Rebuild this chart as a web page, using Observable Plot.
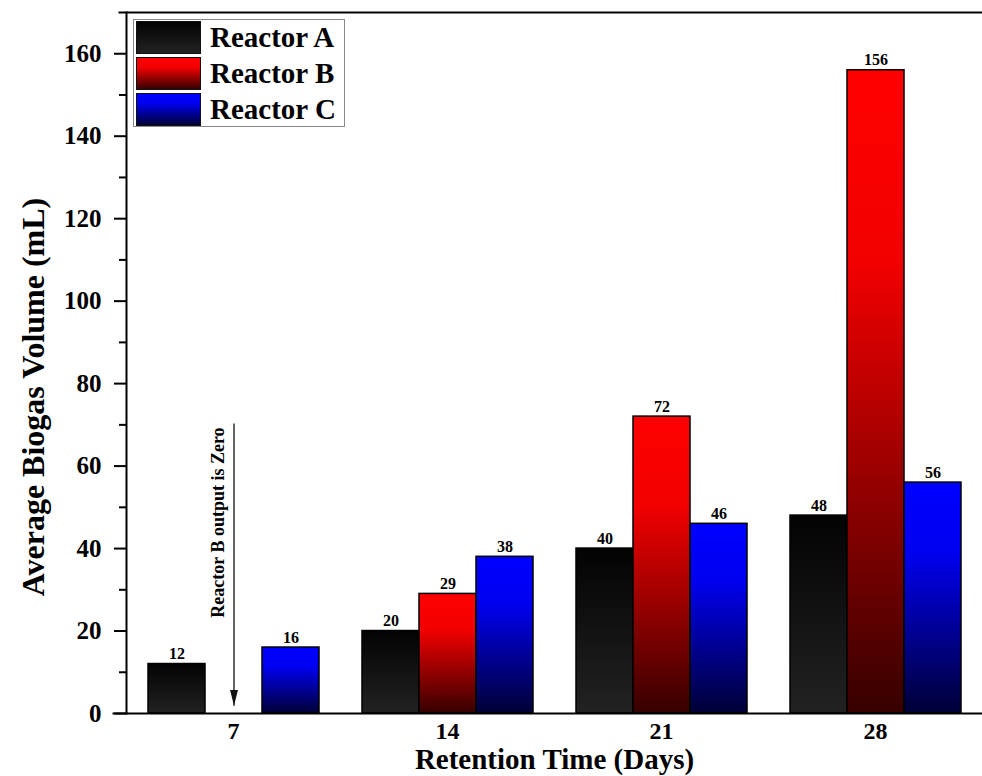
<!DOCTYPE html>
<html>
<head>
<meta charset="utf-8">
<script src="https://cdn.jsdelivr.net/npm/d3@7"></script>
<script src="https://cdn.jsdelivr.net/npm/@observablehq/plot@0.6"></script>
<style>
  body { margin: 0; background: #fff; }
  #wrap { position: relative; width: 982px; height: 776px; font-family: "Liberation Serif", "Times New Roman", serif; }
  #legend { position: absolute; left: 133px; top: 19px; width: 212px; height: 108px; border: 1px solid #8a8a8a; background: #fff; box-sizing: border-box; }
  .row { position: absolute; left: 2px; height: 33px; display: flex; align-items: center; }
  .sw { width: 65px; height: 33px; border: 1.5px solid #111; box-sizing: border-box; }
  .lab { margin-left: 9px; font-weight: bold; font-size: 29px; color: #000; white-space: nowrap; }
</style>
</head>
<body>
<svg width="0" height="0" style="position:absolute">
  <defs>
    <linearGradient id="gA" x1="0" y1="0" x2="0" y2="1">
      <stop offset="0" stop-color="#030303"/>
      <stop offset="1" stop-color="#222222"/>
    </linearGradient>
    <linearGradient id="gB" x1="0" y1="0" x2="0" y2="1">
      <stop offset="0" stop-color="#ff0000"/>
      <stop offset="0.3" stop-color="#f20000"/>
      <stop offset="1" stop-color="#360000"/>
    </linearGradient>
    <linearGradient id="gC" x1="0" y1="0" x2="0" y2="1">
      <stop offset="0" stop-color="#0000ff"/>
      <stop offset="0.3" stop-color="#0000f0"/>
      <stop offset="1" stop-color="#000036"/>
    </linearGradient>
  </defs>
</svg>
<div id="wrap">
  <div id="chart"></div>
  <div id="legend"></div>
</div>
<script>
const days = [7, 14, 21, 28];
const reactors = ["Reactor A", "Reactor B", "Reactor C"];
const reactorA = [12, 20, 40, 48];
const reactorB = [0, 29, 72, 156];
const reactorC = [16, 38, 46, 56];
const yMajorTicks = [0, 20, 40, 60, 80, 100, 120, 140, 160];
const yMinorTicks = [10, 30, 50, 70, 90, 110, 130, 150];
const yTitle = ["Average Biogas Volume (mL)"];
const xTitle = ["Retention Time (Days)"];
const noteArrow = [{day: 7, reactor: "Reactor B", from: 70.3, to: 1.9}];
const noteLabel = [{day: 7, reactor: "Reactor B", y: 46.3, text: "Reactor B output is Zero"}];
const gradients = ["url(#gA)", "url(#gB)", "url(#gC)"];
const legendCss = [
  "linear-gradient(#030303, #222222)",
  "linear-gradient(#ff0000 0%, #f20000 30%, #360000 100%)",
  "linear-gradient(#0000ff 0%, #0000f0 30%, #000036 100%)"
];

const series = [reactorA, reactorB, reactorC];
const data = days.flatMap((d, i) => reactors.map((r, j) => ({day: d, reactor: r, value: series[j][i]})));
const shown = data.filter(d => d.value > 0);

function arrowHead(color) {
  const m = d3.create("svg:marker")
    .attr("viewBox", "-16 -5 16 10")
    .attr("markerWidth", 16)
    .attr("markerHeight", 10)
    .attr("markerUnits", "userSpaceOnUse")
    .attr("refX", 0).attr("refY", 0)
    .attr("orient", "auto");
  m.append("path").attr("d", "M-16,-4L0,0L-16,4Z").attr("fill", "#111").attr("stroke", "none");
  return m.node();
}

const font = '"Liberation Serif", "Times New Roman", serif';
const chart = Plot.plot({
  width: 982,
  height: 776,
  marginTop: 12,
  marginBottom: 63,
  marginLeft: 125,
  marginRight: 0,
  style: {fontFamily: font, background: "#fff", color: "#000", overflow: "visible"},
  fx: {domain: days, padding: 0, label: null},
  x: {domain: reactors, paddingInner: 0, paddingOuter: 0.363, axis: null},
  y: {domain: [0, 170], label: null},
  color: {domain: reactors, range: gradients},
  marks: [
    Plot.barY(shown, {fx: "day", x: "reactor", y: "value", fill: "reactor", stroke: "#000", strokeWidth: 1.5}),
    Plot.text(shown, {fx: "day", x: "reactor", y: "value", text: d => String(d.value), dy: -5, lineAnchor: "bottom", fontSize: 16, fontWeight: "bold", fill: "#000"}),
    Plot.link(noteArrow, {fx: "day", x1: "reactor", x2: "reactor", y1: "from", y2: "to", stroke: "#111", strokeWidth: 1.3, markerEnd: arrowHead}),
    Plot.text(noteLabel, {fx: "day", x: "reactor", y: "y", text: "text", rotate: -90, dx: -16, fontSize: 18, fontWeight: "bold", fill: "#000"}),
    Plot.frame({anchor: "bottom", facet: "super", insetLeft: -13, stroke: "#000", strokeWidth: 2}),
    Plot.frame({anchor: "top", facet: "super", insetLeft: -7, stroke: "#000", strokeWidth: 2}),
    Plot.frame({anchor: "left", facet: "super", stroke: "#000", strokeWidth: 2}),
    Plot.axisY({ticks: yMajorTicks, tickSize: 12, tickPadding: 13, fontSize: 25, fontWeight: "bold", strokeWidth: 2, label: null}),
    Plot.axisY({ticks: yMinorTicks, tickSize: 7, tickFormat: () => "", strokeWidth: 2, label: null}),
    Plot.axisFx({anchor: "bottom", tickSize: 0, tickPadding: 8, fontSize: 24, fontWeight: "bold", label: null}),
    Plot.text(yTitle, {facet: "super", frameAnchor: "left", textAnchor: "middle", lineAnchor: "middle", rotate: -90, dx: -93, dy: 34, fontSize: 32, fontWeight: "bold", fill: "#000"}),
    Plot.text(xTitle, {facet: "super", frameAnchor: "bottom", textAnchor: "middle", lineAnchor: "middle", dy: 46, fontSize: 29, fontWeight: "bold", fill: "#000"})
  ]
});
document.getElementById("chart").appendChild(chart);

const legend = document.getElementById("legend");
reactors.forEach((r, i) => {
  const row = document.createElement("div");
  row.className = "row";
  row.style.top = (1 + i * 36) + "px";
  const sw = document.createElement("div");
  sw.className = "sw";
  sw.style.background = legendCss[i];
  const lab = document.createElement("span");
  lab.className = "lab";
  lab.textContent = r;
  row.appendChild(sw);
  row.appendChild(lab);
  legend.appendChild(row);
});
</script>
</body>
</html>
